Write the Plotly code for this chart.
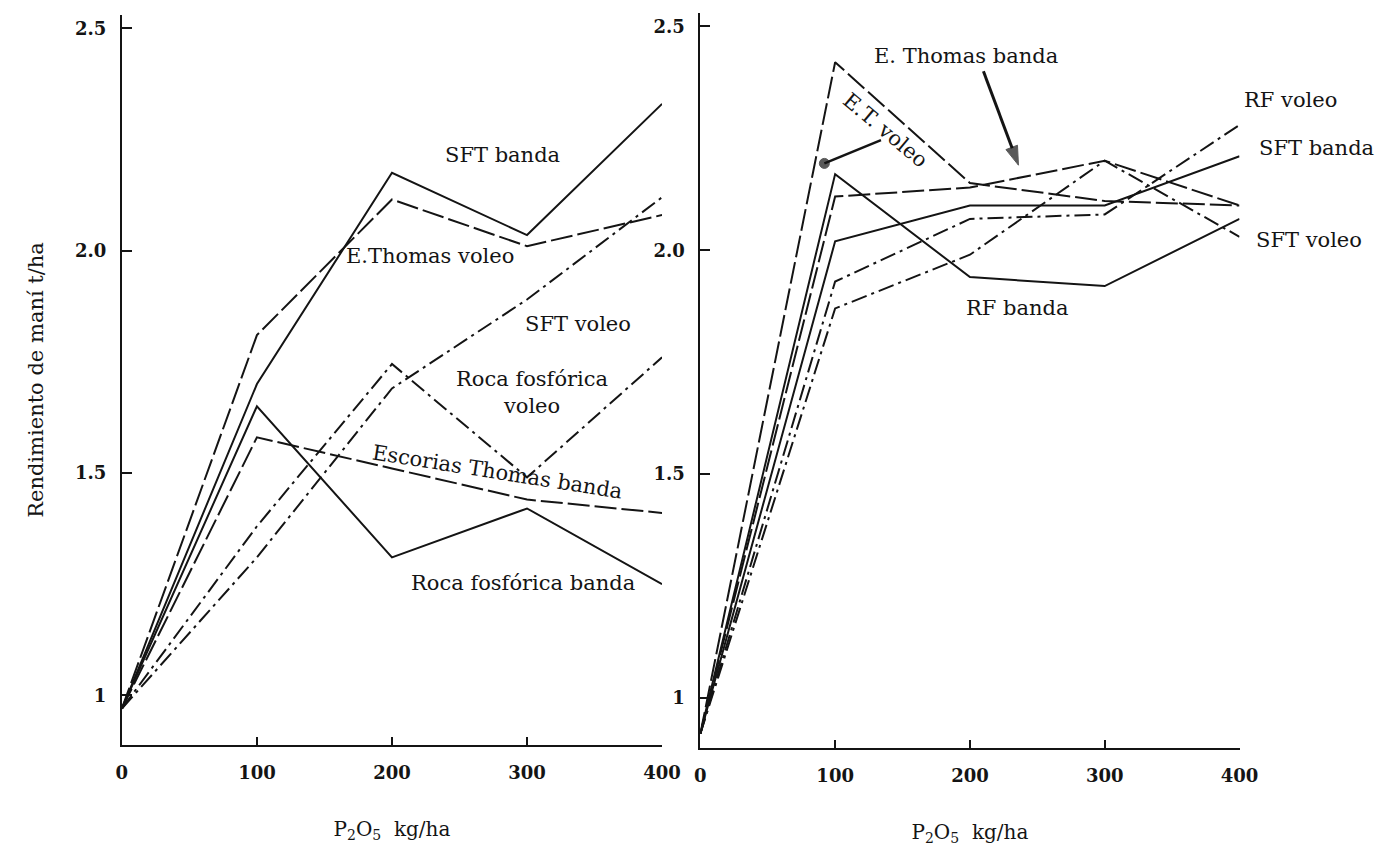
import plotly.graph_objects as go

# P2O5 applied (kg/ha)
dosis = [0, 100, 200, 300, 400]

# Left panel: yield (t/ha)
izq_sft_banda = [0.97, 1.70, 2.175, 2.035, 2.33]
izq_et_voleo = [0.97, 1.81, 2.115, 2.01, 2.08]
izq_sft_voleo = [0.97, 1.31, 1.69, 1.89, 2.12]
izq_rf_voleo = [0.97, 1.38, 1.745, 1.49, 1.76]
izq_escorias_banda = [0.97, 1.58, 1.51, 1.44, 1.41]
izq_rf_banda = [0.97, 1.65, 1.31, 1.42, 1.25]

# Right panel: yield (t/ha)
der_et_voleo = [0.92, 2.42, 2.15, 2.11, 2.10]
der_et_banda = [0.92, 2.12, 2.14, 2.20, 2.10]
der_rf_voleo = [0.92, 1.93, 2.07, 2.08, 2.28]
der_sft_banda = [0.92, 2.02, 2.10, 2.10, 2.21]
der_sft_voleo = [0.92, 1.87, 1.99, 2.20, 2.03]
der_rf_banda = [0.92, 2.17, 1.94, 1.92, 2.07]

# Pointer strokes on the right panel (tail -> head, in axis units)
flecha_et_banda_x = [210, 236]
flecha_et_banda_y = [2.40, 2.19]
flecha_et_voleo_x = [134, 92]
flecha_et_voleo_y = [2.246, 2.194]

x_ticks = [0, 100, 200, 300, 400]
x_ticktext = ["0", "100", "200", "300", "400"]
y_ticks = [1, 1.5, 2.0, 2.5]
y_ticktext = ["1", "1.5", "2.0", "2.5"]

INK = "#141414"
SOLID = "solid"
LONGDASH = "22px,5px"
DASHDOT = "16px,5px,3px,5px"

W, H = 1397, 860

series = [
    ("x", "y", izq_sft_banda, SOLID),
    ("x", "y", izq_et_voleo, LONGDASH),
    ("x", "y", izq_sft_voleo, DASHDOT),
    ("x", "y", izq_rf_voleo, DASHDOT),
    ("x", "y", izq_escorias_banda, LONGDASH),
    ("x", "y", izq_rf_banda, SOLID),
    ("x2", "y2", der_et_voleo, LONGDASH),
    ("x2", "y2", der_et_banda, LONGDASH),
    ("x2", "y2", der_rf_voleo, DASHDOT),
    ("x2", "y2", der_sft_banda, SOLID),
    ("x2", "y2", der_sft_voleo, DASHDOT),
    ("x2", "y2", der_rf_banda, SOLID),
]

fig = go.Figure()
for xa, ya, vals, dash in series:
    fig.add_trace(go.Scatter(
        x=dosis, y=vals, xaxis=xa, yaxis=ya, mode="lines",
        line=dict(color=INK, width=2, dash=dash),
        showlegend=False, hoverinfo="skip",
    ))

# arrow towards the E. Thomas banda curve
fig.add_trace(go.Scatter(
    x=flecha_et_banda_x, y=flecha_et_banda_y, xaxis="x2", yaxis="y2",
    mode="lines+markers", line=dict(color=INK, width=3),
    marker=dict(symbol=["circle", "arrow"], size=[0, 20], angleref="previous",
                color=INK, line=dict(color=INK, width=1)),
    showlegend=False, hoverinfo="skip", cliponaxis=False,
))
# dot pointer for the E.T. voleo curve
fig.add_trace(go.Scatter(
    x=flecha_et_voleo_x, y=flecha_et_voleo_y, xaxis="x2", yaxis="y2",
    mode="lines+markers", line=dict(color=INK, width=2.5),
    marker=dict(symbol="circle", size=[0, 10], color=INK,
                line=dict(color=INK, width=1)),
    showlegend=False, hoverinfo="skip", cliponaxis=False,
))

tick_font = dict(family="DejaVu Serif", size=18, color=INK, weight="bold")
lab_font = dict(family="DejaVu Serif", size=21, color=INK)
title_x = dict(text="P<sub>2</sub>O<sub>5</sub>  kg/ha", standoff=40,
               font=dict(family="DejaVu Serif", size=20, color=INK))

xcommon = dict(
    range=[0, 400], tickvals=x_ticks, ticktext=x_ticktext,
    showline=True, linecolor=INK, linewidth=2, ticks="inside",
    ticklen=8, tickwidth=2, tickcolor=INK, showgrid=False, zeroline=False,
    tickfont=tick_font, ticklabelstandoff=10, title=title_x,
)
ycommon = dict(
    range=[0.888, 2.53], tickvals=y_ticks, ticktext=y_ticktext,
    showline=True, linecolor=INK, linewidth=2, ticks="inside",
    ticklen=10, tickwidth=2, tickcolor=INK, showgrid=False, zeroline=False,
    tickfont=tick_font, ticklabelstandoff=10,
)

fig.update_layout(
    width=W, height=H, autosize=False,
    margin=dict(l=0, r=0, t=0, b=0),
    paper_bgcolor="white", plot_bgcolor="white",
    xaxis=dict(domain=[118 / W, 668 / W], anchor="y", **xcommon),
    yaxis=dict(domain=[(H - 745) / H, (H - 15) / H], anchor="x",
               title=dict(text="Rendimiento de maní t/ha", standoff=26,
                          font=dict(family="DejaVu Serif", size=21, color=INK)),
               **ycommon),
    xaxis2=dict(domain=[707 / W, 1256 / W], anchor="y2", **xcommon),
    yaxis2=dict(domain=[(H - 748) / H, (H - 13) / H], anchor="x2", **ycommon),
)

ann = []


def label(text, x, y, xref, yref, angle=0):
    ann.append(dict(text=text, x=x, y=y, xref=xref, yref=yref, showarrow=False,
                    font=lab_font, textangle=angle, xanchor="center",
                    yanchor="middle", align="center"))


# left panel labels
label("SFT banda", 282, 2.215, "x", "y")
label("E.Thomas voleo", 228, 1.989, "x", "y")
label("SFT voleo", 338, 1.834, "x", "y")
label("Roca fosfórica<br>voleo", 304, 1.682, "x", "y")
label("Escorias Thomas banda", 278, 1.503, "x", "y", angle=9)
label("Roca fosfórica banda", 297, 1.253, "x", "y")

# right panel labels (the ones past the 400 mark are placed on the page)
label("E. Thomas banda", 197, 2.435, "x2", "y2")
label("E.T. voleo", 137, 2.268, "x2", "y2", angle=40)
label("RF banda", 235, 1.871, "x2", "y2")
label("RF voleo", 1308 / W, 1 - 100 / H, "paper", "paper")
label("SFT banda", 1334 / W, 1 - 148 / H, "paper", "paper")
label("SFT voleo", 1327 / W, 1 - 240 / H, "paper", "paper")

fig.update_layout(annotations=ann)
fig.write_html("out.html")
